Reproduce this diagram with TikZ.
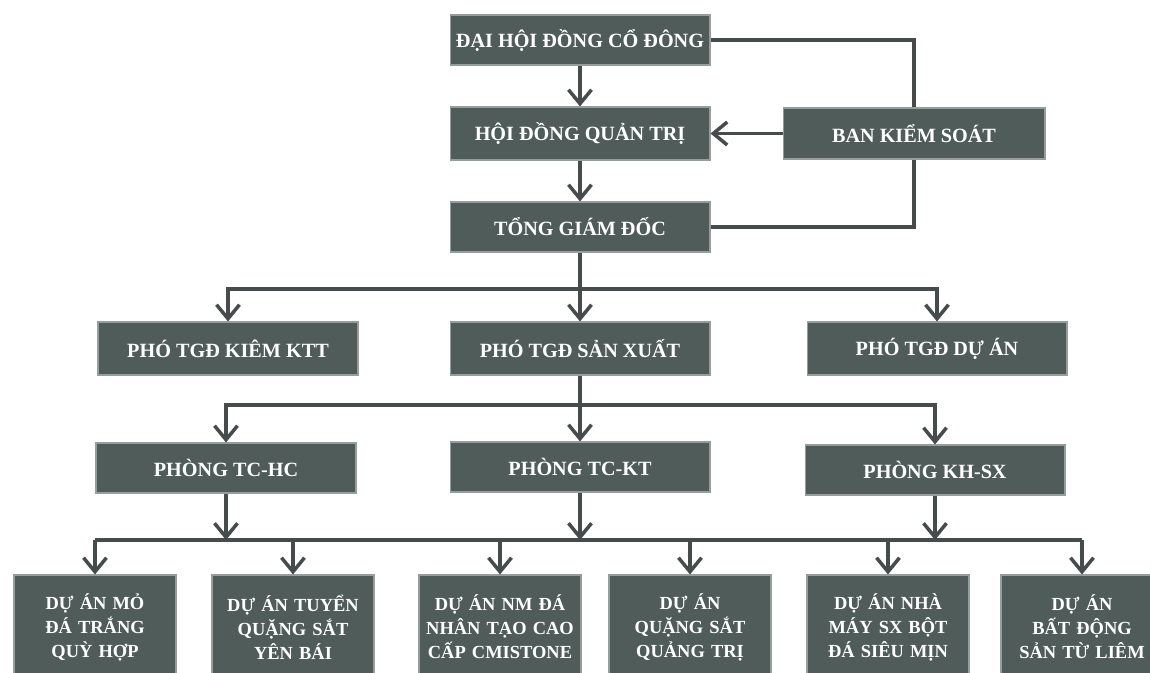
\documentclass[tikz,border=0pt]{standalone}
\usepackage{fontspec}
\setmainfont{Liberation Serif}
\usetikzlibrary{arrows.meta,positioning,calc}
\definecolor{boxfill}{RGB}{80,92,90}
\definecolor{boxedge}{RGB}{150,158,156}
\definecolor{linecol}{RGB}{70,76,76}
\tikzset{
  box/.style={draw=boxedge, line width=0.6pt, fill=boxfill, text=white, inner sep=0pt,
    font=\bfseries\fontsize{11.5}{13}\selectfont, minimum width=5.2cm, minimum height=1cm},
  dabox/.style={box, minimum width=3.24cm, minimum height=2.08cm, text width=3.2cm, align=center,
    font=\bfseries\fontsize{10.5}{13.6}\selectfont},
  ln/.style={draw=linecol, line width=2pt},
  arr/.style={ln, -{Straight Barb[length=2.8mm,width=4.6mm]}}
}

\begin{document}
\begin{tikzpicture}[x=0.02cm,y=-0.02cm]
 \path[use as bounding box,clip] (0,0) rectangle (1150,673);
 \node[box] (dhdcd) at (580,40) {ĐẠI HỘI ĐỒNG CỔ ĐÔNG};
 \node[box,minimum height=1.06cm] (hdqt) at (580,133.5) {HỘI ĐỒNG QUẢN TRỊ};
 \node[box] (tgd) at (580,227) {TỔNG GIÁM ĐỐC};
 \node[box,minimum width=5.24cm,minimum height=1.02cm] (bks) at (914,133.5) {BAN KIỂM SOÁT};

 \node[box,minimum height=1.06cm] (ptktt) at (228,348.5) {PHÓ TGĐ KIÊM KTT};
 \node[box,minimum height=1.06cm] (ptsx) at (580,348.5) {PHÓ TGĐ SẢN XUẤT};
 \node[box,minimum height=1.06cm] (ptda) at (937,348.5) {PHÓ TGĐ DỰ ÁN};

 \node[box] (tchc) at (226,468) {PHÒNG TC-HC};
 \node[box] (tckt) at (580,467) {PHÒNG TC-KT};
 \node[box] (khsx) at (935,470) {PHÒNG KH-SX};

 \node[dabox] (da1) at (95,627) {DỰ ÁN MỎ\\ ĐÁ TRẮNG\\ QUỲ HỢP};
 \node[dabox] (da2) at (293,627) {DỰ ÁN TUYỂN\\ QUẶNG SẮT\\ YÊN BÁI};
 \node[dabox] (da3) at (500,627) {DỰ ÁN NM ĐÁ\\ NHÂN TẠO CAO\\ CẤP CMISTONE};
 \node[dabox] (da4) at (690,627) {DỰ ÁN\\ QUẶNG SẮT\\ QUẢNG TRỊ};
 \node[dabox] (da5) at (888,627) {DỰ ÁN NHÀ\\ MÁY SX BỘT\\ ĐÁ SIÊU MỊN};
 \node[dabox] (da6) at (1082,627) {DỰ ÁN\\ BẤT ĐỘNG\\ SẢN TỪ LIÊM};

 \coordinate (b1) at (580,289);
 \coordinate (b2) at (580,405);
 \coordinate (b3) at (580,540);

 \draw[arr] (dhdcd) -- (hdqt);
 \draw[arr] (hdqt) -- (tgd);
 \draw[ln] (dhdcd.east) -| (bks.north);
 \draw[ln] (bks.south) |- (tgd.east);
 \draw[arr] (bks) -- (hdqt);

 \draw[ln] (tgd) -- (b1);
 \draw[arr] (b1) -| (ptktt);
 \draw[arr] (b1) -- (ptsx);
 \draw[arr] (b1) -| (ptda);

 \draw[ln] (ptsx) -- (b2);
 \draw[arr] (b2) -| (tchc);
 \draw[arr] (b2) -- (tckt);
 \draw[arr] (b2) -| (khsx);

 \foreach \n in {tchc,tckt,khsx}
   \draw[arr] (\n) -- (\n |- b3);
 \draw[ln] (da1 |- b3) -- (da6 |- b3);
 \foreach \i in {1,...,6}
   \draw[arr] (da\i |- b3) -- (da\i);
\end{tikzpicture}
\end{document}
